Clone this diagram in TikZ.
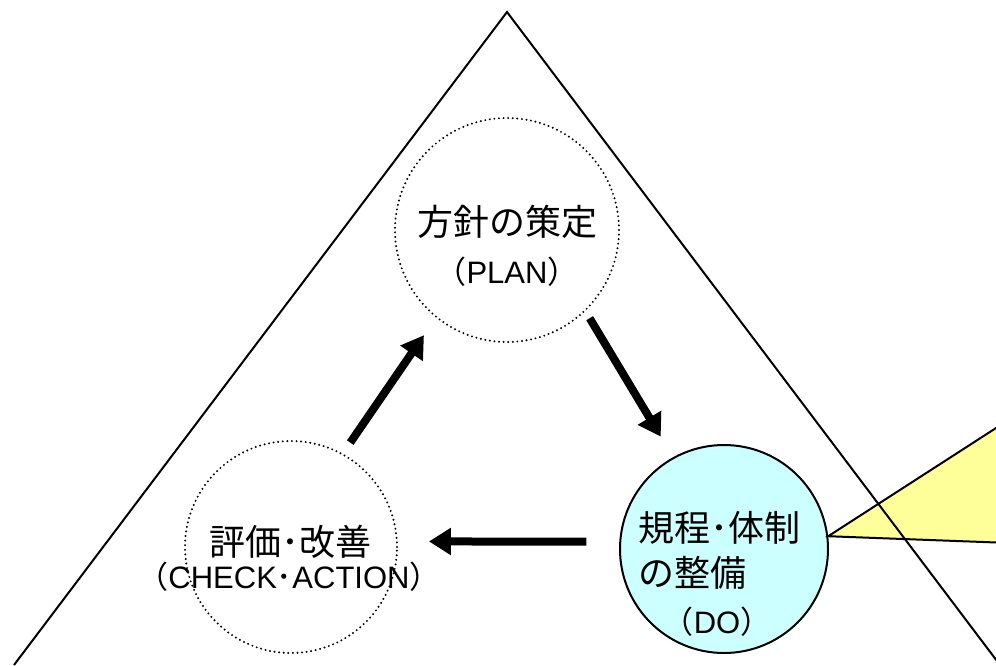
\documentclass[tikz,border=0pt]{standalone}
\usepackage{fontspec}
\setmainfont{Noto Sans CJK JP}
\newfontfamily\latinfont{Liberation Sans}
\usetikzlibrary{arrows.meta,calc}
\definecolor{docyan}{HTML}{CCFFFF}
\definecolor{calloutyellow}{HTML}{FFFF99}
\newcommand{\nakadot}{{･}}

\begin{document}
\begin{tikzpicture}[x=1pt,y=-1pt,
	stage/.style={circle,inner sep=0pt,draw,line width=2.2pt,line cap=round,dash pattern=on 0pt off 4.6pt},
	flow/.style={line width=8pt,-{Triangle[length=22pt,width=26pt]}},
	bigtext/.style={font=\fontsize{36}{40}\selectfont,inner sep=0pt},
	smalltext/.style={font=\fontsize{31}{34}\selectfont,inner sep=0pt}]

\useasboundingbox (0,0) rectangle (996,665);

\node[stage,minimum size=224pt] (plan) at (507,230) {};
\node[stage,minimum size=212pt] (check) at (291,547) {};
\node[circle,inner sep=0pt,minimum size=208pt,draw,line width=2pt,fill=docyan] (do) at (724,549) {};

\node[bigtext] (plan-title) at (507,222) {方針の策定};
\node[smalltext] (plan-sub) at (507,272) {（{\latinfont PLAN}）};
\node[bigtext] (check-title) at (290,542) {評価\nakadot 改善};
\node[smalltext] (check-sub) at (289,577) {（{\latinfont CHECK}\nakadot{\latinfont ACTION}）};
\node[bigtext,anchor=west] (do-title) at (638,528) {規程\nakadot 体制};
\node[bigtext,anchor=west] (do-title2) at (638,573) {の整備};
\node[smalltext] (do-sub) at (717,622) {（{\latinfont DO}）};

\draw[flow,shorten <=8pt,shorten >=24pt] (plan.-46) -- (do.119);
\draw[flow,shorten <=33pt,shorten >=31pt] (do.176) -- (check.3);
\draw[flow,shorten <=13pt,shorten >=21pt] (check.61) -- (plan.231);

\coordinate (callout-top) at (1010,419);
\coordinate (callout-bottom) at (1010,543);
\begin{scope}
\clip (0,0) rectangle (996,665);
\draw[fill=calloutyellow,line width=2pt] (do.7) -- (callout-top) -- (callout-bottom) -- cycle;

\coordinate (apex) at (507,12);
\coordinate (left-foot) at (14,665);
\coordinate (right-foot) at (1000,665);
\draw[line width=2pt] (left-foot) -- (apex) -- (right-foot);
\end{scope}

\end{tikzpicture}
\end{document}
